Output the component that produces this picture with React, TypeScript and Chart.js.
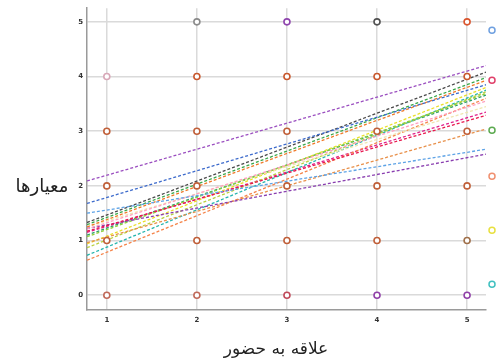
import React, { useEffect, useRef } from "react";
import { Chart, registerables } from "chart.js";

Chart.register(...registerables);

const xTicks = [1, 2, 3, 4, 5];
const yTicks = [0, 1, 2, 3, 4, 5];
const xTitle = "علاقه به حضور";
const yTitle = "معیارها";

// observed points
const pointX = [2, 3, 4, 5, 1, 2, 3, 4, 5, 1, 2, 3, 4, 5, 1, 2, 3, 4, 5, 1, 2, 3, 4, 5, 1, 2, 3, 4, 5];
const pointY = [5, 5, 5, 5, 4, 4, 4, 4, 4, 3, 3, 3, 3, 3, 2, 2, 2, 2, 2, 1, 1, 1, 1, 1, 0, 0, 0, 0, 0];
const pointColors = [
  "#8a8a8a", "#8e44ad", "#505050", "#d9552e",
  "#d8a8b8", "#c8582e", "#c8582e", "#c8582e", "#c8582e",
  "#c0603a", "#c0603a", "#c0603a", "#c0603a", "#c0603a",
  "#c0603a", "#c0603a", "#c0603a", "#c0603a", "#c0603a",
  "#c0603a", "#c0603a", "#c0603a", "#c0603a", "#a0704a",
  "#c06a5a", "#c06a5a", "#c04a5a", "#9040a8", "#9040a8",
];

// fit lines: value at left edge (x=0.78) and right edge (x=5.21)
const lineX = [0.78, 5.21];
const lineStart = [2.09, 1.68, 1.5, 1.33, 1.29, 1.25, 1.21, 1.17, 1.22, 1.25, 1.07, 0.96, 0.94, 0.87, 0.73, 0.64, 1.15, 1.1];
const lineEnd = [4.2, 3.85, 2.67, 4.08, 3.98, 3.93, 3.55, 3.29, 2.58, 3.45, 3.69, 3.04, 3.8, 3.72, 3.75, 3.6, 3.35, 3.66];
const lineColors = [
  "#9b4fc0", "#3d6bcc", "#5ea3e6", "#4a4a4a", "#3aa84a", "#f07a2a", "#ff9fc0", "#e8194e", "#8a3fb0",
  "#efe6b0", "#8fd03a", "#e8904a", "#eadf2a", "#b8d040", "#26b5ad", "#f5844a", "#e0208a", "#2e9e6a",
];

const legendColors = ["#6fa0e0", "#e0406a", "#5caa50", "#f09070", "#e8e040", "#40c0c0"];

export default function App() {
  const ref = useRef<HTMLCanvasElement | null>(null);
  useEffect(() => {
    if (!ref.current) return;
    const lineSets = lineStart.map((s, i) => ({
      type: "line" as const,
      data: [
        { x: lineX[0], y: s },
        { x: lineX[1], y: lineEnd[i] },
      ],
      borderColor: lineColors[i],
      borderWidth: 1.3,
      borderDash: [3, 2],
      pointRadius: 0,
      fill: false,
      order: 2,
    }));
    const legendOffsets = [22, 72, 122, 168, 222, 276];
    const legendPlugin = {
      id: "sideLegend",
      afterDraw(chart: any) {
        const { ctx, chartArea } = chart;
        ctx.save();
        legendColors.forEach((c, i) => {
          ctx.beginPath();
          ctx.arc(chartArea.right + 6, chartArea.top + legendOffsets[i], 3, 0, Math.PI * 2);
          ctx.strokeStyle = c;
          ctx.lineWidth = 1.5;
          ctx.fillStyle = "#fff";
          ctx.fill();
          ctx.stroke();
        });
        ctx.restore();
      },
    };
    const chart = new Chart(ref.current, {
      type: "scatter",
      data: {
        datasets: [
          {
            type: "scatter",
            data: pointX.map((x, i) => ({ x, y: pointY[i] })),
            pointRadius: 3,
            pointBorderWidth: 1.6,
            pointBackgroundColor: "#ffffff",
            pointBorderColor: pointColors,
            order: 0,
          } as any,
          ...lineSets,
        ],
      },
      options: {
        animation: false,
        responsive: false,
        devicePixelRatio: 1,
        layout: { padding: { left: 0, right: 11, top: 7, bottom: 0 } },
        plugins: { legend: { display: false }, tooltip: { enabled: false } },
        scales: {
          x: {
            type: "linear",
            min: 0.78,
            max: 5.21,
            afterBuildTicks: (s: any) => {
              s.ticks = xTicks.map((v) => ({ value: v }));
            },
            afterFit: (s: any) => {
              s.height = 53;
            },
            grid: { color: "#dadada", lineWidth: 1.5, drawTicks: false },
            border: { display: true, color: "#9a9a9a", width: 1.5 },
            ticks: { padding: 6, color: "#333", font: { size: 7, weight: "bold", family: "DejaVu Sans" } },
          },
          y: {
            type: "linear",
            min: -0.27,
            max: 5.25,
            afterBuildTicks: (s: any) => {
              s.ticks = yTicks.map((v) => ({ value: v }));
            },
            afterFit: (s: any) => {
              s.width = 87;
            },
            grid: { color: "#dadada", lineWidth: 1.5, drawTicks: false },
            border: { display: true, color: "#9a9a9a", width: 1.5 },
            ticks: { padding: 4, color: "#333", font: { size: 7, weight: "bold", family: "DejaVu Sans" } },
          },
        },
      } as any,
      plugins: [legendPlugin],
    });
    return () => chart.destroy();
  }, []);
  return (
    <div style={{ position: "absolute", left: 0, top: 0, width: 497, height: 363, overflow: "hidden", background: "#fff" }}>
      <canvas ref={ref} width={497} height={363} style={{ display: "block" }} />
      <div
        style={{
          position: "absolute",
          left: 2,
          top: 175,
          width: 80,
          textAlign: "center",
          fontFamily: "DejaVu Sans",
          fontSize: 18,
          color: "#222",
          direction: "rtl",
        }}
      >
        {yTitle}
      </div>
      <div
        style={{
          position: "absolute",
          left: 176,
          top: 338,
          width: 200,
          textAlign: "center",
          fontFamily: "DejaVu Sans",
          fontSize: 17,
          color: "#222",
          direction: "rtl",
        }}
      >
        {xTitle}
      </div>
    </div>
  );
}
